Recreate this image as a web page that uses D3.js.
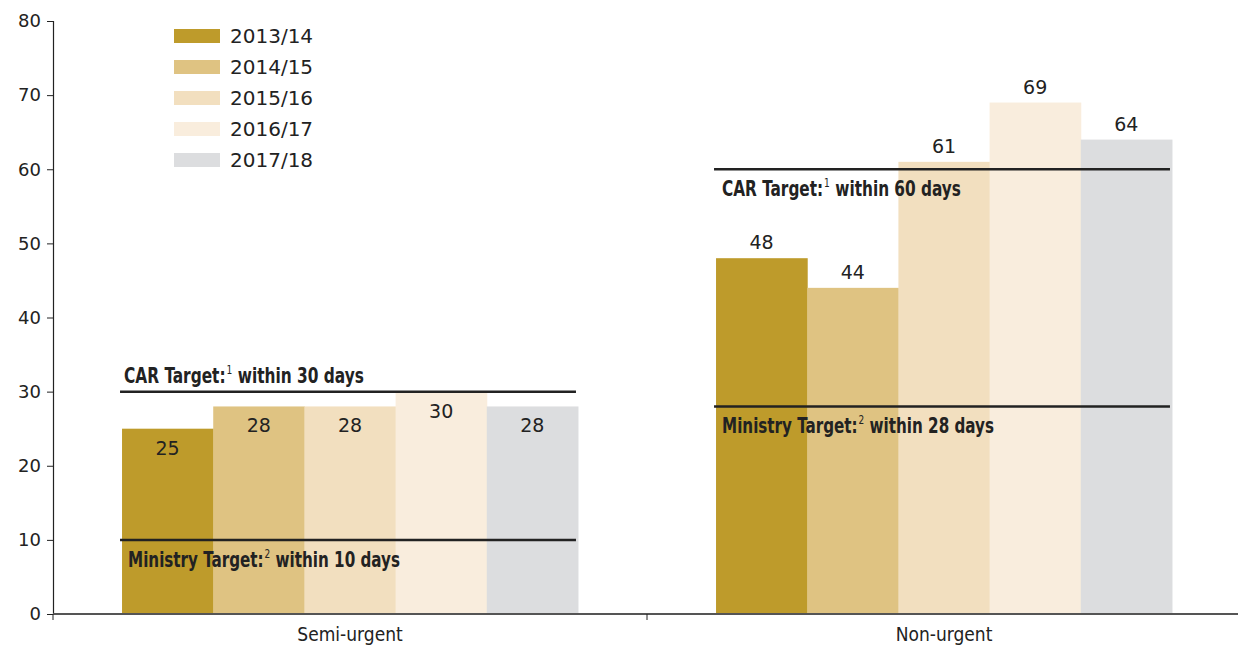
<!DOCTYPE html>
<html>
<head>
<meta charset="utf-8">
<script src="https://cdn.jsdelivr.net/npm/d3@7"></script>
<style>
  html, body { margin: 0; padding: 0; background: #fff; }
  svg { display: block; }
  .tick text { font-family: "DejaVu Sans", sans-serif; font-size: 18px; fill: #222; }
  .cat text { font-family: "DejaVu Sans Condensed", "DejaVu Sans", sans-serif; font-size: 19px; fill: #222; }
  .val { font-family: "DejaVu Sans", sans-serif; font-size: 19px; fill: #222; }
  .legend text { font-family: "DejaVu Sans", sans-serif; font-size: 20px; fill: #222; }
  .target text { font-family: "DejaVu Sans Condensed", "DejaVu Sans", sans-serif; font-size: 22px; font-weight: bold; fill: #222; }
  .target text.sup { font-size: 13px; font-weight: normal; }
</style>
</head>
<body>
<svg id="chart" width="1238" height="648"></svg>
<script>
// Median wait (days) by urgency category and year
const categories = ["Semi-urgent", "Non-urgent"];
const years = ["2013/14", "2014/15", "2015/16", "2016/17", "2017/18"];
const semiUrgent = [25, 28, 28, 30, 28];
const nonUrgent = [48, 44, 61, 69, 64];
const colors = ["#BE9B2B", "#DFC382", "#F2DFBF", "#F9EDDD", "#DCDDDF"];
const yTicks = [0, 10, 20, 30, 40, 50, 60, 70, 80];

// Target lines per category
const targets = [
  { cat: "Semi-urgent", value: 30, name: "CAR Target:", sup: "1", rest: "within 30 days", pos: "above", len: 240 },
  { cat: "Semi-urgent", value: 10, name: "Ministry Target:", sup: "2", rest: "within 10 days", pos: "below", len: 272 },
  { cat: "Non-urgent", value: 60, name: "CAR Target:", sup: "1", rest: "within 60 days", pos: "below", len: 239 },
  { cat: "Non-urgent", value: 28, name: "Ministry Target:", sup: "2", rest: "within 28 days", pos: "below", len: 272 }
];

const series = { "Semi-urgent": semiUrgent, "Non-urgent": nonUrgent };

const svg = d3.select("#chart");
const margin = { left: 53, right: -3, top: 21, bottom: 34 };
const W = 1238, H = 648;

const x = d3.scaleBand().domain(categories).range([margin.left, W - margin.right]).paddingInner(0).paddingOuter(0);
const xi = d3.scaleBand().domain(years).range([0, x.bandwidth()]).paddingOuter(0.757).paddingInner(0);
const y = d3.scaleLinear().domain([0, 80]).range([H - margin.bottom, margin.top]);

// Bars
categories.forEach(cat => {
  const g = svg.append("g").attr("transform", `translate(${x(cat)},0)`);
  const vals = series[cat];
  g.selectAll("rect").data(years).join("rect")
    .attr("x", d => xi(d))
    .attr("width", xi.bandwidth() + 0.5)
    .attr("y", (d, i) => y(vals[i]))
    .attr("height", (d, i) => y(0) - y(vals[i]))
    .attr("fill", (d, i) => colors[i]);

  // Value labels: inside the bar top for semi-urgent, above for non-urgent
  const inside = cat === "Semi-urgent";
  g.selectAll("text.val").data(years).join("text")
    .attr("class", "val")
    .attr("x", d => xi(d) + xi.bandwidth() / 2)
    .attr("y", (d, i) => inside ? y(vals[i]) + 26 : y(vals[i]) - 9)
    .attr("text-anchor", "middle")
    .text((d, i) => vals[i]);
});

// Target lines and labels
targets.forEach(t => {
  const x0 = x(t.cat) + xi(years[0]) - 2;
  const x1 = x(t.cat) + xi(years[years.length - 1]) + xi.bandwidth() - 2;
  const yy = y(t.value);
  svg.append("line")
    .attr("x1", x0).attr("x2", x1)
    .attr("y1", yy).attr("y2", yy)
    .attr("stroke", "#222").attr("stroke-width", 2.5);

  // Label pieces laid out side by side, then squeezed to a condensed width
  const lx = x0 + (t.pos === "above" ? 4 : 8);
  const ly = t.pos === "above" ? yy - 9 : yy + 27;
  const g = svg.append("g").attr("class", "target");
  const a = g.append("text").attr("x", 0).attr("y", 0).text(t.name);
  const wa = a.node().getComputedTextLength();
  const s = g.append("text").attr("class", "sup").attr("x", wa + 1).attr("y", -9).text(t.sup);
  const ws = s.node().getComputedTextLength();
  const b = g.append("text").attr("x", wa + ws + 8).attr("y", 0).text(t.rest);
  const total = wa + ws + 8 + b.node().getComputedTextLength();
  g.attr("transform", `translate(${lx},${ly}) scale(${t.len / total},1)`);
});

// Y axis
svg.append("g")
  .attr("transform", `translate(${margin.left},0)`)
  .call(d3.axisLeft(y).tickValues(yTicks).tickSize(6).tickPadding(6).tickFormat(d3.format("d")))
  .call(g => g.select(".domain").attr("stroke", "#222").attr("stroke-width", 1.2))
  .call(g => g.selectAll(".tick line").attr("stroke", "#222"));

// X axis
svg.append("g")
  .attr("class", "cat")
  .attr("transform", `translate(0,${y(0)})`)
  .call(d3.axisBottom(x).tickSize(0).tickPadding(14))
  .call(g => g.select(".domain").remove())
  .call(g => g.selectAll(".tick text").attr("class", null));
svg.append("line")
  .attr("x1", margin.left).attr("x2", W)
  .attr("y1", y(0)).attr("y2", y(0))
  .attr("stroke", "#555").attr("stroke-width", 2);
// Category separators
[x(categories[0]), x(categories[1])].forEach(px => {
  svg.append("line").attr("x1", px).attr("x2", px)
    .attr("y1", y(0)).attr("y2", y(0) + 6)
    .attr("stroke", "#222");
});

// Legend
const legend = svg.append("g").attr("class", "legend").attr("transform", "translate(174,29)");
const li = legend.selectAll("g").data(years).join("g")
  .attr("transform", (d, i) => `translate(0,${i * 31})`);
li.append("rect").attr("width", 46).attr("height", 14).attr("fill", (d, i) => colors[i]);
li.append("text").attr("x", 56).attr("y", 14).text(d => d);
</script>
</body>
</html>
